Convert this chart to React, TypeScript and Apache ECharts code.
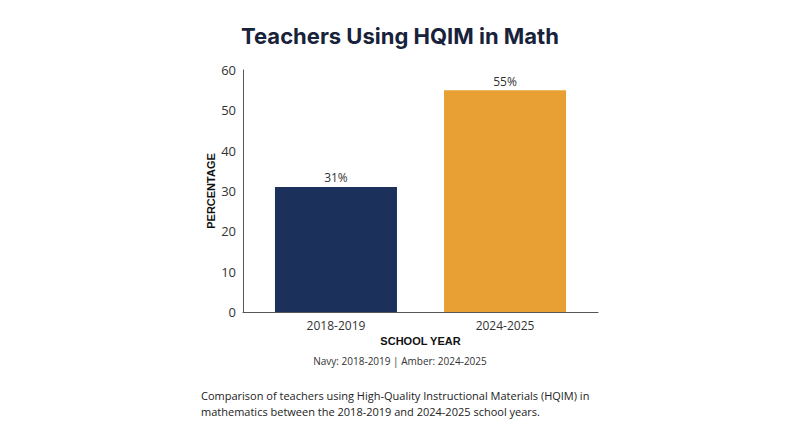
import React, { useEffect, useRef } from "react";
import * as echarts from "echarts";

const years = ["2018-2019", "2024-2025"];
const percentages = [31, 55];
const barColors = ["#1b305b", "#e8a034"];
const yTicks = { min: 0, max: 60, interval: 10 };

const chartTitle = "Teachers Using HQIM in Math";
const colorNote = "Navy: 2018-2019 | Amber: 2024-2025";
const captionLines = [
  "Comparison of teachers using High-Quality Instructional Materials (HQIM) in",
  "mathematics between the 2018-2019 and 2024-2025 school years.",
];

const App: React.FC = () => {
  const chartRef = useRef<HTMLDivElement>(null);

  useEffect(() => {
    document.body.style.margin = "0";
    if (!chartRef.current) return;
    const chart = echarts.init(chartRef.current, undefined, { renderer: "svg" });

    const axisNameStyle = {
      fontFamily: "Liberation Sans",
      fontWeight: "bold" as const,
      fontSize: 11,
      color: "#111111",
    };

    const option: echarts.EChartsOption = {
      animation: false,
      backgroundColor: "#ffffff",
      title: {
        text: chartTitle,
        left: "center",
        top: 20,
        textStyle: {
          fontFamily: "Inter",
          fontWeight: 700,
          fontSize: 22,
          color: "#18223a",
        },
      },
      grid: { left: 243, right: 202, top: 70, bottom: 135 },
      // value axis so the bars can sit a little inward, as in the original
      xAxis: {
        type: "value",
        min: -0.55,
        max: 1.55,
        name: "SCHOOL YEAR",
        nameLocation: "middle",
        nameGap: 23,
        nameTextStyle: axisNameStyle,
        axisLine: { show: true, lineStyle: { color: "#555555", width: 1 } },
        axisTick: { show: false },
        splitLine: { show: false },
        axisLabel: {
          customValues: years.map((_, i) => i),
          formatter: (v: number) => years[Math.round(v)] ?? "",
          margin: 7,
          fontFamily: "Open Sans",
          fontSize: 12,
          color: "#333333",
        },
      } as any,
      yAxis: {
        type: "value",
        min: yTicks.min,
        max: yTicks.max,
        interval: yTicks.interval,
        name: "PERCENTAGE",
        nameLocation: "middle",
        nameGap: 27,
        nameTextStyle: axisNameStyle,
        axisLine: {
          show: true,
          onZero: false,
          lineStyle: { color: "#555555", width: 1 },
        },
        axisTick: { show: false },
        splitLine: { show: false },
        axisLabel: {
          margin: 7,
          fontFamily: "Open Sans",
          fontSize: 13,
          color: "#333333",
        },
      },
      series: [
        {
          type: "bar",
          barWidth: 122,
          data: percentages.map((v, i) => ({
            value: [i, v],
            itemStyle: { color: barColors[i] },
          })),
          label: {
            show: true,
            position: "top",
            distance: 3,
            formatter: (p: any) => `${p.value[1]}%`,
            fontFamily: "Open Sans",
            fontSize: 12,
            color: "#333333",
          },
        },
      ],
      graphic: [
        {
          type: "text",
          left: "center",
          top: 356,
          style: {
            text: colorNote,
            fontFamily: "Open Sans",
            fontSize: 10,
            fill: "#333333",
          },
        },
        {
          type: "text",
          left: 201,
          top: 387,
          style: {
            text: captionLines.join("\n"),
            fontFamily: "Open Sans",
            fontSize: 11,
            lineHeight: 16,
            fill: "#222222",
          },
        },
      ],
    };

    chart.setOption(option);
    return () => {
      chart.dispose();
    };
  }, []);

  return <div ref={chartRef} style={{ width: 800, height: 447 }} />;
};

export default App;
